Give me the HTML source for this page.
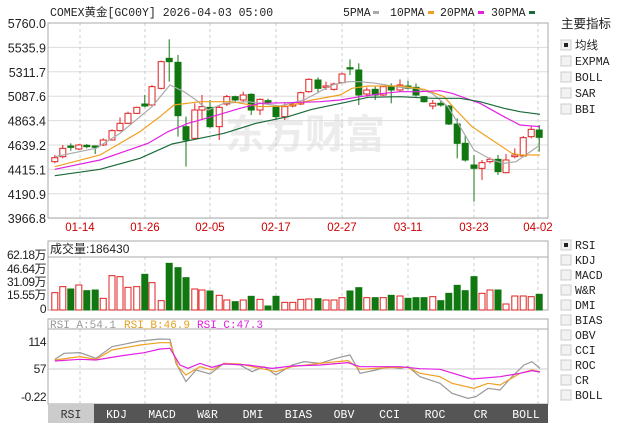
<!DOCTYPE html>
<html><head><meta charset="utf-8"><style>
body{margin:0;background:#fff;width:622px;height:423px;overflow:hidden}
svg{display:block}
text{font-family:"Liberation Sans","Noto Sans CJK SC",sans-serif}
.m,.m text{font-family:"Liberation Mono","Noto Sans CJK SC",monospace}
</style></head><body>
<svg id="s" width="622" height="423" viewBox="0 0 622 423" xmlns="http://www.w3.org/2000/svg">
<rect width="622" height="423" fill="#fff"/>
<text x="225" y="148" font-size="40" font-weight="bold" fill="#ececec" font-family="Noto Sans CJK SC,sans-serif">东方财富</text>
<g id="grid"></g>
<rect x="48" y="23" width="500" height="195" fill="none" stroke="#aaa"/>
<rect x="48" y="241" width="500" height="69" fill="none" stroke="#aaa"/>
<line x1="48" y1="257" x2="548" y2="257" stroke="#aaa"/>
<rect x="48" y="319" width="500" height="85" fill="none" stroke="#aaa"/>
<line x1="48" y1="329" x2="548" y2="329" stroke="#aaa"/>
<line x1="48" y1="369" x2="548" y2="369" stroke="#ccc"/>
<g id="plot"></g>
<text x="50" y="16" font-size="11.5" class="m" fill="#222">COMEX黄金[GC00Y] 2026-04-03 05:00</text>
<g font-size="11.5" class="m" fill="#222">
<text x="343" y="16">5PMA</text><rect x="373" y="11" width="6" height="3" fill="#aaa"/>
<text x="390" y="16">10PMA</text><rect x="428" y="11" width="6" height="3" fill="#f0a020"/>
<text x="440" y="16">20PMA</text><rect x="478" y="11" width="6" height="3" fill="#e020e0"/>
<text x="491" y="16">30PMA</text><rect x="529" y="11" width="6" height="3" fill="#1a6a3a"/>
</g>
<g font-size="12.5" fill="#222" text-anchor="end" id="plab"></g>
<g font-size="11.5" fill="#c00" text-anchor="middle" id="dlab"></g>
<text x="50" y="253" font-size="12" fill="#222">成交量:186430</text>
<g font-size="12" fill="#222" text-anchor="end" letter-spacing="-0.5">
<text x="46" y="259">62.18万</text><text x="46" y="273">46.64万</text><text x="46" y="286">31.09万</text><text x="46" y="299">15.55万</text><text x="46" y="313">0</text>
<text x="46" y="346">114</text><text x="46" y="373">57</text><text x="46" y="401">-0.22</text>
</g>
<g font-size="11" class="m"><text x="50" y="328" fill="#999">RSI_A:54.1</text><text x="124" y="328" fill="#e8a020">RSI_B:46.9</text><text x="197" y="328" fill="#e020e0">RSI_C:47.3</text></g>
<rect x="48" y="404" width="500" height="19" fill="#555"/>
<rect x="48" y="404" width="46" height="19" fill="#ccc"/>
<g id="tabs" font-size="11.5" class="m" text-anchor="middle"></g>
<text x="561" y="28" font-size="12.5" fill="#222">主要指标</text>
<g id="side" font-size="11.5" class="m" fill="#222"></g>
</svg>
<script>
const NS="http://www.w3.org/2000/svg";
function el(p,t,a,txt){const e=document.createElementNS(NS,t);for(const k in a)e.setAttribute(k,a[k]);if(txt!=null)e.textContent=txt;document.getElementById(p).appendChild(e);return e;}
for(let i=0;i<9;i++){const y=23+i*24.4;el('grid','line',{x1:48,x2:548,y1:y,y2:y,stroke:'#ddd'});}
const vx=[80,145,210,276,342,408,474,538],dl=['01-14','01-26','02-05','02-17','02-27','03-11','03-23','04-02'];
vx.forEach((x,i)=>{[[23,218],[257,310],[329,404]].forEach(r=>el('grid','line',{x1:x,x2:x,y1:r[0],y2:r[1],stroke:'#ccc','stroke-dasharray':'3,3'}));el('dlab','text',{x:x,y:231},dl[i]);});
['5760.0','5535.9','5311.7','5087.6','4863.4','4639.2','4415.1','4190.9','3966.8'].forEach((t,i)=>el('plab','text',{x:46,y:28+i*24.4},t));
const C=[[137,'r',473,485,465,490],[157,'r',445,470,435,475],[177,'g',438,442,430,452],[197,'r',435,447,432,450],[217,'g',436,440,432,445],[238,'g',438,442,436,462],[258,'r',420,435,415,438],[280,'r',392,420,388,422],[300,'r',370,392,352,395],[320,'r',340,370,335,372],[342,'r',322,340,320,342],[362,'g',312,318,285,322],[380,'r',260,315,255,318],[403,'r',185,265,182,268],[423,'g',175,185,118,245],[445,'g',187,347,165,410],[465,'g',380,420,350,500],[487,'r',330,415,310,420],[505,'r',320,330,285,360],[525,'g',322,380,300,385],[548,'r',322,380,315,420],[567,'r',290,312,285,318],[588,'g',290,300,287,305],[608,'r',285,300,275,305],[628,'g',283,330,280,345],[650,'r',298,330,295,345],[670,'g',302,308,296,312],[690,'g',320,350,315,360],[712,'r',320,350,310,360],[732,'r',312,318,306,322],[752,'r',278,312,275,315],[772,'r',238,275,235,278],[795,'g',240,265,232,280],[815,'r',258,262,245,270],[835,'r',252,268,248,272],[855,'r',222,248,218,250],[875,'g',203,207,178,225],[897,'g',210,285,190,315],[917,'r',270,282,262,290],[938,'g',268,285,260,300],[958,'r',260,285,258,288],[978,'g',258,270,250,310],[1000,'r',255,270,238,275],[1020,'g',258,265,242,268],[1040,'g',262,285,250,290],[1060,'g',290,305,288,308],[1082,'r',310,318,300,328],[1102,'g',310,315,300,320],[1122,'g',318,372,315,375],[1143,'g',372,430,355,475],[1163,'g',430,480,405,485],[1185,'g',495,505,465,605],[1205,'r',488,505,480,540],[1225,'r',478,485,472,490],[1245,'g',478,515,465,525],[1265,'r',480,518,462,520],[1287,'r',465,470,445,475],[1308,'r',413,468,408,470],[1328,'r',388,410,378,415],[1348,'g',390,412,375,455]];
const VB=[188,170,177,165,182,180,205,137,140,172,170,133,158,212,100,113,143,177,180,183,196,210,215,210,199,208,228,199,217,217,208,207,206,210,210,203,183,173,203,203,203,196,198,205,203,203,200,212,190,166,182,140,190,180,180,222,198,198,200,193];
C.forEach((c,i)=>{const x=c[0]/2.5,col=c[1]=='r'?'#e02020':'#117711';
 const bt=c[2]/3,bb=c[3]/3,wt=c[4]/3,wb=c[5]/3;
 el('plot','line',{x1:x,x2:x,y1:wt,y2:bt,stroke:col});el('plot','line',{x1:x,x2:x,y1:bb,y2:wb,stroke:col});
 el('plot','rect',{x:x-3,y:bt,width:6,height:Math.max(1,bb-bt),fill:c[1]=='r'?'#fff':col,stroke:col});
 const vt=VB[i]/3+230;
 el('plot','rect',{x:x-3,y:vt,width:6,height:310-vt,fill:c[1]=='r'?'#fff':col,stroke:col});
});
function pl(pts,col,off){el('plot','polyline',{points:pts.map(p=>(p[0]/2.5)+','+(p[1]/3+off)).join(' '),fill:'none',stroke:col,'stroke-width':1.2});}
pl([[137,470],[240,445],[300,400],[380,320],[425,255],[460,275],[490,300],[520,330],[560,310],[620,305],[700,318],[760,300],[830,255],[870,245],[900,245],[940,250],[1000,262],[1040,265],[1080,280],[1120,320],[1145,370],[1185,450],[1230,480],[1260,490],[1290,485],[1320,460],[1350,435]],'#aaa',0);
pl([[137,500],[250,465],[350,395],[400,350],[435,315],[500,305],[580,305],[650,320],[720,318],[780,300],[850,285],[880,265],[920,258],[1000,258],[1060,268],[1110,290],[1140,330],[1180,380],[1230,420],[1280,460],[1300,465],[1350,465]],'#f0a020',0);
pl([[137,508],[250,480],[370,430],[420,395],[470,370],[530,350],[600,325],[650,310],[720,308],[800,305],[850,300],[900,290],[960,280],[1000,275],[1050,275],[1100,272],[1130,280],[1200,310],[1260,350],[1300,375],[1350,380]],'#e020e0',0);
pl([[137,527],[250,508],[350,475],[430,432],[500,415],[560,400],[640,370],[720,350],[780,328],[860,308],[920,292],[1000,290],[1080,295],[1150,295],[1200,305],[1260,325],[1300,335],[1350,343]],'#1a6a3a',0);
pl([[137,388],[160,370],[200,368],[240,385],[280,350],[350,333],[400,327],[425,328],[440,400],[465,455],[490,420],[525,432],[560,400],[600,405],[630,425],[660,410],[690,435],[730,405],[760,395],[800,400],[840,385],[875,375],[900,430],[940,420],[970,410],[1000,415],[1020,410],[1050,440],[1100,460],[1130,490],[1170,505],[1190,500],[1220,475],[1250,480],[1280,440],[1310,405],[1330,395],[1350,415]],'#999',230);
pl([[137,390],[200,380],[240,388],[280,360],[350,345],[400,338],[425,338],[445,410],[465,435],[500,410],[530,420],[560,400],[600,402],[650,415],[690,425],[730,410],[800,400],[870,392],[900,418],[970,413],[1020,412],[1050,430],[1100,440],[1130,460],[1185,475],[1220,460],[1250,465],[1300,430],[1330,420],[1350,425]],'#f0a020',230);
pl([[137,393],[200,388],[240,390],[300,378],[360,368],[400,357],[425,355],[450,405],[470,415],[500,400],[530,412],[560,402],[620,405],[680,415],[730,408],[800,405],[870,398],[900,410],[1000,410],[1050,416],[1100,418],[1180,447],[1250,440],[1300,430],[1330,422],[1350,426]],'#e020e0',230);
['RSI','KDJ','MACD','W&R','DMI','BIAS','OBV','CCI','ROC','CR','BOLL'].forEach((t,i)=>el('tabs','text',{x:71+i*45.5,y:418,fill:i==0?'#333':'#fff'},t));
function side(items,y0,dy){items.forEach((t,i)=>{const y=y0+i*dy;el('side','rect',{x:561,y:y-9,width:10,height:10,fill:'#f2f2f2',stroke:'#ccc'});if(i==0)el('side','rect',{x:564,y:y-6,width:4,height:4,fill:'#222'});el('side','text',{x:575,y:y},t);});}
side(['均线','EXPMA','BOLL','SAR','BBI'],49,16);
side(['RSI','KDJ','MACD','W&R','DMI','BIAS','OBV','CCI','ROC','CR','BOLL'],249,15);
</script>
</body></html>
